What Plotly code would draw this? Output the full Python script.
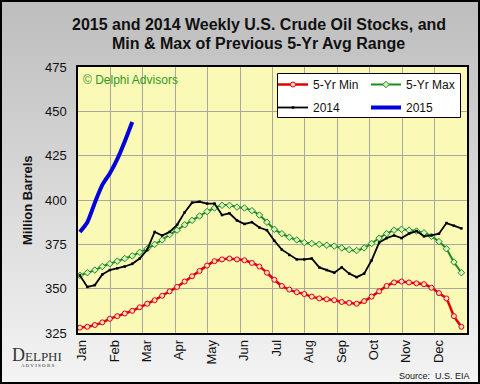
import numpy as np
import plotly.graph_objects as go

months = ["Jan", "Feb", "Mar", "Apr", "May", "Jun", "Jul", "Aug", "Sep", "Oct", "Nov", "Dec"]
weeks = list(range(52))

min_5yr = [328, 328.5, 329.5, 331, 333, 334.5, 336, 337.5, 339.5, 341.5, 343.5, 346, 348.5,
           351, 354, 357, 360, 363, 365.5, 366.5, 367, 366.5, 366, 364.5, 362.5, 359, 355,
           351.5, 349.5, 348, 347, 345.5, 344.5, 344, 343.5, 342.5, 342, 341.5, 343, 345.5,
           348.5, 351.5, 353.5, 354, 353.5, 353, 352.5, 350.5, 347.5, 344.5, 334.5, 328.5]
max_5yr = [357.5, 359, 360.5, 362.5, 364, 365.5, 367, 368.5, 370.5, 372.5, 375, 377.5, 380.5,
           383, 386, 388.5, 391, 393.5, 395.5, 397, 397, 396, 395.5, 394, 391.5, 387.5, 383.5,
           381, 379, 377.5, 376, 375.5, 375, 374.5, 374, 373, 372, 371.5, 373, 375.5,
           378.5, 381, 383, 383.5, 383, 382.5, 381.5, 379.5, 376.5, 372.5, 365, 359]
y2014 = [357.5, 351, 352, 358, 360.5, 361.5, 362.5, 364, 367, 372, 382, 380, 382,
         386, 393, 398.5, 399, 398, 398, 391.5, 392.5, 388.5, 386.5, 387.5, 384.5, 383, 377,
         372, 369, 366.5, 366.5, 367, 362, 360.5, 359, 362, 358.5, 356.5, 358.5, 366,
         376, 378.5, 380, 378.5, 381, 382.5, 379.5, 380, 381, 387, 385.5, 384]
y2015 = [382, 387.5, 398.5, 408.5, 415, 423, 433, 444]

y_ticks = [325, 350, 375, 400, 425, 450, 475]

title_lines = ["2015 and 2014 Weekly U.S. Crude Oil Stocks, and",
               "Min & Max of Previous 5-Yr Avg Range"]

W, H = 480, 384
ML, MR, MT, MB = 78, 13, 67, 51
PW, PH = W - ML - MR, H - MT - MB


def px_x(p):
    return (p - ML) / PW


def px_y(p):
    return 1 - (p - MT) / PH


wk_x = [w + 0.25 for w in weeks]
n_weeks = len(weeks)
month_pos = [n_weeks / 12 * k for k in range(12)]

FONT = "Liberation Sans, Arial, sans-serif"

fig = go.Figure()
fig.add_trace(go.Scatter(
    x=wk_x, y=min_5yr, name="5-Yr Min", mode="lines+markers",
    line=dict(color="#E00000", width=2.5, shape="spline", smoothing=0.5),
    marker=dict(symbol="circle", size=5, color="#FFD8D0", line=dict(color="#E00000", width=1)),
    legend="legend", legendgroup="g1"))
fig.add_trace(go.Scatter(
    x=wk_x, y=max_5yr, name="5-Yr Max", mode="lines+markers",
    line=dict(color="#1F8A1F", width=2, shape="spline", smoothing=0.5),
    marker=dict(symbol="diamond", size=5, color="#D8F0C0", line=dict(color="#1F8A1F", width=1)),
    legend="legend2", legendgroup="g2"))
fig.add_trace(go.Scatter(
    x=wk_x, y=y2014, name="2014", mode="lines+markers",
    line=dict(color="#000000", width=1.8),
    marker=dict(symbol="square", size=2.5, color="#000000"),
    legend="legend", legendgroup="g3"))
fig.add_trace(go.Scatter(
    x=wk_x[:len(y2015)], y=y2015, name="2015", mode="lines",
    line=dict(color="#0000DD", width=4, shape="spline", smoothing=0.6),
    legend="legend2", legendgroup="g4"))

# background gradient bands (paper coords)
shapes = []
n_bands = 48
y_lo, y_hi = -MB / PH, 1 + MT / PH
x_lo, x_hi = -ML / PW, 1 + MR / PW
top_c = np.array([190, 190, 190])
bot_c = np.array([244, 244, 244])
for k in range(n_bands):
    t = k / (n_bands - 1)
    c = (top_c * (1 - t) + bot_c * t).astype(int)
    y1 = y_hi - (y_hi - y_lo) * k / n_bands
    y0 = y_hi - (y_hi - y_lo) * (k + 1) / n_bands
    shapes.append(dict(type="rect", xref="paper", yref="paper", x0=x_lo, x1=x_hi, y0=y0, y1=y1,
                       fillcolor="rgb(%d,%d,%d)" % tuple(c), line=dict(width=0), layer="below"))
shapes.append(dict(type="rect", xref="x domain", yref="y domain", x0=0, x1=1, y0=0, y1=1,
                   fillcolor="#FBF9B6", line=dict(width=0), layer="below"))
# legend frame
shapes.append(dict(type="rect", xref="paper", yref="paper", x0=px_x(277.5), x1=px_x(460.5),
                   y0=px_y(117.5), y1=px_y(73.5), fillcolor="#FFFFFF",
                   line=dict(color="#000000", width=1), layer="above"))
# outer frame
shapes.append(dict(type="rect", xref="paper", yref="paper", x0=px_x(1), x1=px_x(W - 1),
                   y0=px_y(H - 1), y1=px_y(1), fillcolor="rgba(0,0,0,0)",
                   line=dict(color="#000000", width=2), layer="above"))

annotations = [
    dict(text="<b>%s</b>" % title_lines[0], xref="paper", yref="paper", x=px_x(258.5), y=px_y(25),
         showarrow=False, xanchor="center", yanchor="middle",
         font=dict(family=FONT, size=16, color="#111111")),
    dict(text="<b>%s</b>" % title_lines[1], xref="paper", yref="paper", x=px_x(258.5), y=px_y(43),
         showarrow=False, xanchor="center", yanchor="middle",
         font=dict(family=FONT, size=16, color="#111111")),
    dict(text="<b>Million Barrels</b>", xref="paper", yref="paper", x=px_x(27), y=0.5,
         textangle=-90, showarrow=False, font=dict(family=FONT, size=13, color="#111111"),
         xanchor="center", yanchor="middle"),
    dict(text="\u00a9 Delphi Advisors", xref="paper", yref="paper", x=px_x(81),
         y=px_y(80), showarrow=False, xanchor="left", yanchor="middle",
         font=dict(family=FONT, size=12, color="#2E9A1E")),
    dict(text="Source:  U.S. EIA", xref="paper", yref="paper", x=px_x(472),
         y=px_y(376), showarrow=False, xanchor="right", yanchor="middle",
         font=dict(family=FONT, size=9, color="#111111")),
    dict(text="D<span style='font-size:13px'>ELPHI</span>", xref="paper", yref="paper",
         x=px_x(37), y=px_y(355), showarrow=False, xanchor="center", yanchor="middle",
         font=dict(family="Liberation Serif, serif", size=18, color="#333333")),
    dict(text="A D V I S O R S", xref="paper", yref="paper",
         x=px_x(38), y=px_y(365.5), showarrow=False, xanchor="center", yanchor="middle",
         font=dict(family="Liberation Serif, serif", size=5, color="#333333")),
]

legend_font = dict(family=FONT, size=12, color="#111111")

fig.update_layout(
    width=W, height=H,
    margin=dict(l=ML, r=MR, t=MT, b=MB, pad=0),
    paper_bgcolor="#d0d0d0",
    plot_bgcolor="#FBF9B6",
    font=dict(family=FONT, size=13, color="#111111"),
    xaxis=dict(range=[0, n_weeks], tickvals=month_pos, ticktext=months, tickangle=-90,
               showgrid=True, gridcolor="#A8A8A0", gridwidth=1, zeroline=False,
               showline=True, linecolor="#000000", linewidth=1.5, mirror=True,
               ticks="", ticklabelshift=4, tickfont=dict(size=13), fixedrange=True),
    yaxis=dict(range=[325, 475], tickvals=y_ticks, showgrid=True, gridcolor="#A8A8A0", gridwidth=1,
               zeroline=False, showline=True, linecolor="#000000", linewidth=1.5, mirror=True,
               ticks="", ticklabelstandoff=7, tickfont=dict(size=13), fixedrange=True),
    legend=dict(x=px_x(273), y=px_y(70), xanchor="left", yanchor="top",
                bgcolor="rgba(0,0,0,0)", borderwidth=0, orientation="v",
                tracegroupgap=4, font=legend_font),
    legend2=dict(x=px_x(366), y=px_y(70), xanchor="left", yanchor="top",
                 bgcolor="rgba(0,0,0,0)", borderwidth=0, orientation="v",
                 tracegroupgap=4, font=legend_font),
    shapes=shapes,
    annotations=annotations,
    showlegend=True,
    hovermode=False,
)

fig.write_html("out.html", config={"displayModeBar": False},
               post_script="document.body.style.margin='0px';document.body.style.overflow='hidden';")
